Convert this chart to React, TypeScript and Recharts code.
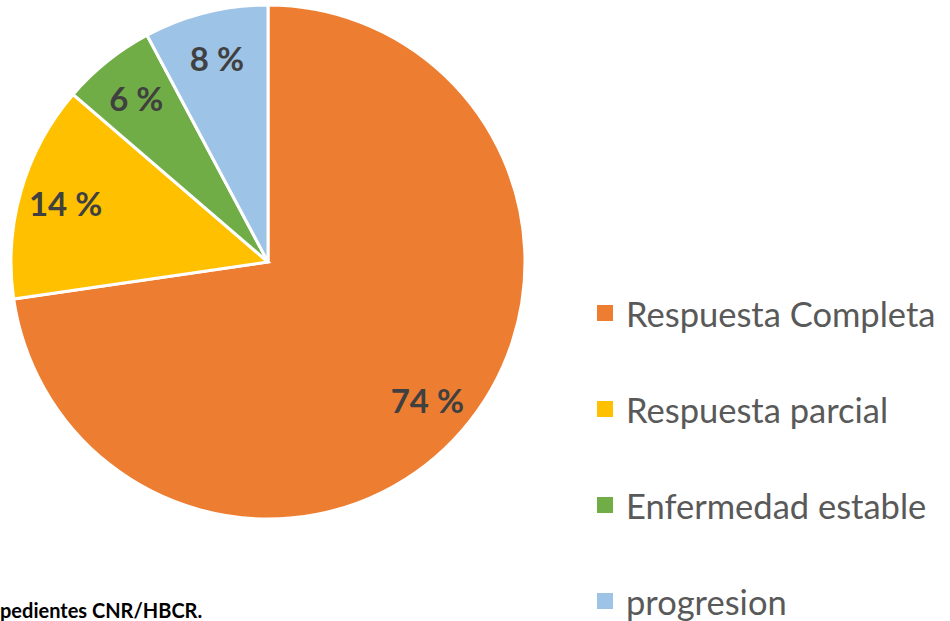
import { Cell, Legend, Pie, PieChart } from "recharts";

// shares; printed labels kept as shown on the chart
const CATEGORIES = ["Respuesta Completa", "Respuesta parcial", "Enfermedad estable", "progresion"];
const SHARES = [72.7, 13.6, 5.9, 7.8];
const LABELS = ["74 %", "14 %", "6 %", "8 %"];
const COLORS = ["#ed7d31", "#ffc000", "#70ad47", "#9dc3e6"];

const data = CATEGORIES.map((name, i) => ({ name, value: SHARES[i], label: LABELS[i] }));

const RAD = Math.PI / 180;

const renderLabel = (props: any) => {
  const { cx, cy, midAngle, outerRadius, index } = props;
  const r = outerRadius * 0.82;
  const x = cx + r * Math.cos(-midAngle * RAD);
  const y = cy + r * Math.sin(-midAngle * RAD);
  return (
    <text
      x={x}
      y={y}
      textAnchor="middle"
      dominantBaseline="central"
      fill="#404040"
      fontSize={33}
      fontWeight="bold"
      fontFamily="Lato, 'Open Sans', sans-serif"
    >
      {LABELS[index]}
    </text>
  );
};

const renderLegend = () => (
  <div style={{ fontFamily: "Lato, 'Open Sans', sans-serif" }}>
    {data.map((d, i) => (
      <div
        key={d.name}
        style={{ display: "flex", alignItems: "center", height: 96, color: "#595959", fontSize: 34.5 }}
      >
        <span
          style={{ width: 16, height: 16, background: COLORS[i], display: "inline-block", marginRight: 13 }}
        />
        <span>{d.name}</span>
      </div>
    ))}
  </div>
);

export default function App() {
  return (
    <div style={{ position: "absolute", left: 0, top: 0, width: 950, height: 621, overflow: "hidden", background: "#fff" }}>
      <PieChart width={950} height={621} margin={{ top: 0, right: 0, bottom: 0, left: 0 }}>
        <Pie
          data={data}
          dataKey="value"
          nameKey="name"
          cx={268}
          cy={262}
          outerRadius={257}
          startAngle={90}
          endAngle={-270}
          stroke="#ffffff"
          strokeWidth={3}
          label={renderLabel}
          labelLine={false}
          isAnimationActive={false}
        >
          {data.map((d, i) => (
            <Cell key={d.name} fill={COLORS[i]} />
          ))}
        </Pie>
        <Legend
          content={renderLegend}
          wrapperStyle={{ position: "absolute", left: 597, top: 265, width: 360 }}
        />
      </PieChart>
      <div
        style={{
          position: "absolute",
          left: 0,
          top: 598,
          fontFamily: "Lato, 'Open Sans', sans-serif",
          fontWeight: "bold",
          fontSize: 20,
          color: "#000",
          whiteSpace: "nowrap",
        }}
      >
        pedientes CNR/HBCR.
      </div>
    </div>
  );
}
